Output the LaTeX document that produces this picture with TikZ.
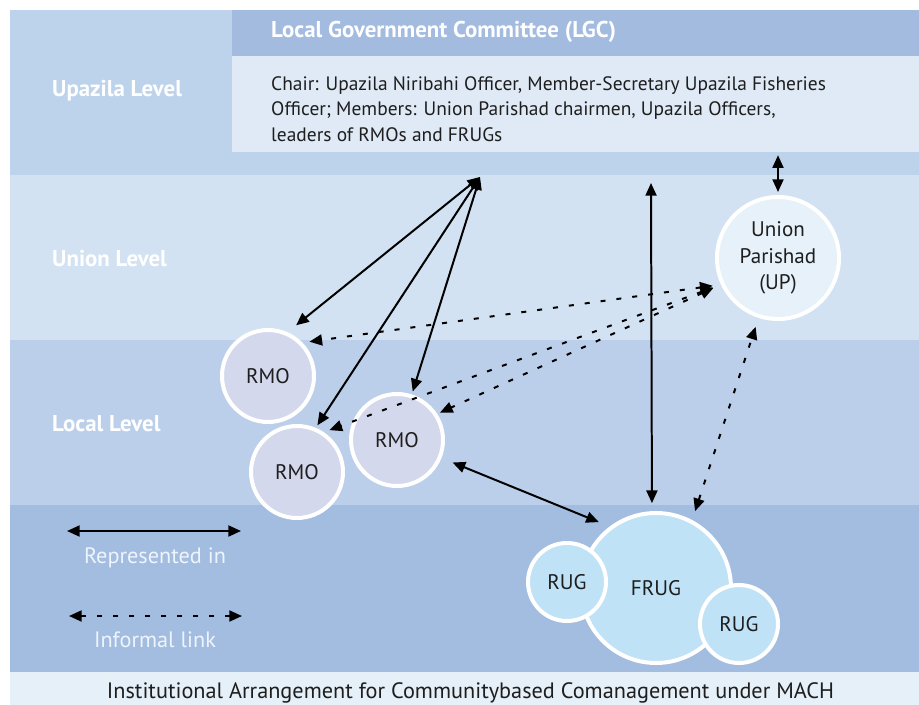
\documentclass[tikz,border=0pt]{standalone}
\usepackage{fontspec}
\setmainfont{PT Sans}
\usepackage{tikz}
\usetikzlibrary{arrows.meta}

\definecolor{upazilaband}{HTML}{BDD3EC}
\definecolor{unionband}{HTML}{D2E2F2}
\definecolor{localband}{HTML}{BBCFEA}
\definecolor{groupband}{HTML}{A3BDE0}
\definecolor{captionband}{HTML}{E5F0F8}
\definecolor{lgchead}{HTML}{A2BBDF}
\definecolor{lgcbody}{HTML}{DFEAF6}
\definecolor{rmofill}{HTML}{D3D8EC}
\definecolor{upfill}{HTML}{E6F1F9}
\definecolor{frugfill}{HTML}{C0E2F6}
\definecolor{keytext}{HTML}{EEF4FB}
\definecolor{darktext}{HTML}{1E1E1E}

\begin{document}
\begin{tikzpicture}[x=0.03cm, y=-0.03cm]
    % Define styles
    \tikzstyle{level} = [anchor=west, inner sep=0pt, text=white, font=\fontsize{19.5}{22}\selectfont\bfseries]
    \tikzstyle{orgcircle} = [circle, draw=white, line width=3.4pt, inner sep=0pt, text=darktext, font=\fontsize{18}{22.5}\selectfont]
    \tikzstyle{rmo} = [orgcircle, fill=rmofill, minimum size=2.76cm]
    \tikzstyle{rug} = [orgcircle, fill=frugfill, minimum size=2.34cm]
    \tikzstyle{frug} = [orgcircle, fill=frugfill, minimum size=4.5cm]
    \tikzstyle{parishad} = [orgcircle, fill=upfill, minimum size=3.66cm, align=center]
    \tikzstyle{link} = [{Triangle[length=3.8mm,width=3.3mm]}-{Triangle[length=3.8mm,width=3.3mm]}, line width=1.7pt]
    \tikzstyle{informal} = [link, dash pattern=on 0.15cm off 0.33cm]
    \tikzstyle{keylabel} = [text=keytext, font=\fontsize{19}{22}\selectfont]

    \useasboundingbox (0,0) rectangle (919,705);

    % Level bands
    \fill[upazilaband] (10,10) rectangle (919,175);
    \fill[unionband] (10,175) rectangle (919,340);
    \fill[localband] (10,340) rectangle (919,505);
    \fill[groupband] (10,505) rectangle (919,672);
    \fill[captionband] (10,672) rectangle (919,705);
    \fill[lgchead] (232,10) rectangle (919,56);
    \node[fill=lgcbody, inner sep=0pt, minimum width=20.61cm, minimum height=2.88cm] (lgc) at (575.5,104) {};

    \node[level] (upazila) at (52,91) {Upazila Level};
    \node[level] (union) at (52,259) {Union Level};
    \node[level] (local) at (52,424) {Local Level};
    \node[level] (lgctitle) at (271,32) {Local Government Committee (LGC)};
    \node[anchor=west, inner sep=0pt, align=left, text=darktext, font=\fontsize{16.6}{21.8}\selectfont] (lgctext) at (271,109)
        {Chair: Upazila Niribahi Officer, Member-Secretary Upazila Fisheries\\
         Officer; Members: Union Parishad chairmen, Upazila Officers,\\
         leaders of RMOs and FRUGs};

    % Nodes
    \node[rmo] (rmoA) at (268,376) {RMO};
    \node[rmo] (rmoB) at (297,472) {RMO};
    \node[rmo] (rmoC) at (397,440) {RMO};
    \node[parishad] (up) at (778,258) {Union\\Parishad\\(UP)};
    \node[frug] (frug) at (656,588) {FRUG};
    \node[rug] (rugA) at (567,582) {RUG};
    \node[rug] (rugB) at (739,624) {RUG};

    \coordinate (hub) at (480,177);
    \coordinate (lgcfoot) at (651,183);

    % Connections
    \draw[link, shorten >=0.33cm] (hub) -- (rmoA.66);
    \draw[link, shorten >=0.09cm] (hub) -- (rmoB.67);
    \draw[link, shorten >=0.09cm] (hub) -- (rmoC.72);
    \draw[informal, shorten <=0.25cm, shorten >=0.21cm] (up.205) -- (rmoA.44);
    \draw[informal, shorten <=0.25cm, shorten >=0.18cm] (up.205) -- (rmoB.56);
    \draw[informal, shorten <=0.25cm, shorten >=0.09cm] (up.205) -- (rmoC.33);
    \draw[link, shorten <=0.36cm, shorten >=0.35cm] (rmoC.-22) -- (frug.127);
    \draw[link, shorten >=0.24cm] (lgcfoot) -- (frug.93);
    \draw[link, shorten <=0.09cm, shorten >=0.09cm] (up.north) -- (up.north |- lgc.south);
    \draw[informal, shorten <=0.28cm, shorten >=0.28cm] (frug.62) -- (up.252);

    % Legend
    \coordinate (repA) at (67,531);
    \coordinate (repB) at (241,531);
    \draw[link] (repA) -- (repB);
    \node[keylabel] (rep) at (155,558) {Represented in};
    \coordinate (infA) at (69,616);
    \coordinate (infB) at (242,616);
    \draw[informal] (infA) -- (infB);
    \node[keylabel] (inf) at (155,640) {Informal link};

    \node[text=darktext, font=\fontsize{19}{22}\selectfont] (caption) at (470.5,693)
        {Institutional Arrangement for Communitybased Comanagement under MACH};
\end{tikzpicture}
\end{document}
